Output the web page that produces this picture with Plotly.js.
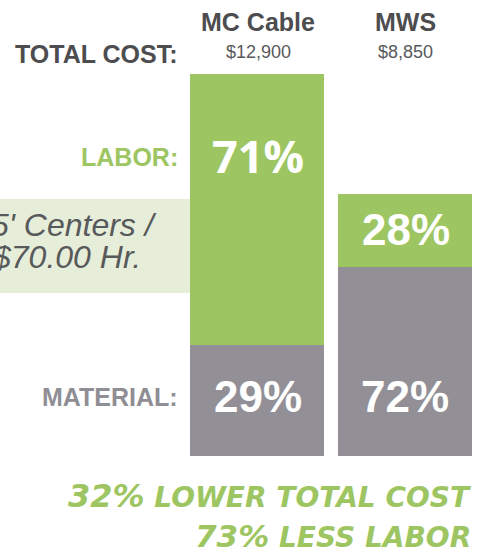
<!DOCTYPE html>
<html>
<head>
<meta charset="utf-8">
<script src="https://cdn.plot.ly/plotly-3.0.1.min.js"></script>
<style>html,body{margin:0;padding:0;background:#fff;}#chart{width:490px;height:554px;}</style>
</head>
<body>
<div id="chart"></div>
<script>
// ---- data ----
const categories = ["MC Cable", "MWS"];
const totalCost = [12900, 8850];
const laborPct = [71, 28];
const materialPct = [29, 72];
const totalLabels = ["$12,900", "$8,850"];
const rowLabels = ["TOTAL COST:", "LABOR:", "MATERIAL:"];
const noteLines = ["5' Centers /", "$70.00 Hr."];
const summaryLines = [["32%", "LOWER TOTAL COST"], ["73%", "LESS LABOR"]];

const laborVals = totalCost.map((t, i) => t * laborPct[i] / 100);
const materialVals = totalCost.map((t, i) => t * materialPct[i] / 100);

// ---- styling ----
const W = 490, H = 554;
const GREEN = "#9dc663", GRAY = "#929096", DARK = "#4d4d4f", MID = "#58595b";
const LABELGRAY = "#8f8e94", BOX = "#e6eed9";
const px = x => x / W;
const py = y => 1 - y / H;
const AR = "Liberation Sans, Arial, sans-serif";

const traces = [
  { type: "bar", x: categories, y: materialVals, width: 0.905,
    marker: { color: GRAY, line: { width: 0 } }, hoverinfo: "skip" },
  { type: "bar", x: categories, y: laborVals, width: 0.905,
    marker: { color: GREEN, line: { width: 0 } }, hoverinfo: "skip" }
];

const ann = [];
function A(text, x, y, xanchor, font, extra) {
  ann.push(Object.assign({ text, x: px(x), y: py(y), xref: "paper", yref: "paper",
    xanchor, yanchor: "middle", showarrow: false, font, borderpad: 0 }, extra || {}));
}
// category headers and totals
const colX = [258, 405];
categories.forEach((c, i) => {
  A("<b>" + c + "</b>", colX[i], 22, "center", { family: AR, size: 25, color: DARK });
  A(totalLabels[i], colX[i], 52, "center", { family: AR, size: 18, color: MID });
});
A("<b>" + rowLabels[0] + "</b>", 179, 54, "right", { family: AR, size: 25, color: DARK });
A("<b>" + rowLabels[1] + "</b>", 179, 157, "right", { family: AR, size: 25, color: GREEN });
A("<b>" + rowLabels[2] + "</b>", 179, 397, "right", { family: AR, size: 25, color: LABELGRAY });

// percentage labels on bars
A("<b>" + laborPct[0] + "%</b>", colX[0], 155, "center", { family: "Open Sans, sans-serif", size: 45, color: "#ffffff" });
A("<b>" + laborPct[1] + "%</b>", colX[1] + 1, 229, "center", { family: AR, size: 44, color: "#ffffff" });
A("<b>" + materialPct[0] + "%</b>", colX[0], 396, "center", { family: AR, size: 44, color: "#ffffff" });
A("<b>" + materialPct[1] + "%</b>", colX[1], 396, "center", { family: AR, size: 44, color: "#ffffff" });

// note box text
A("<i>" + noteLines[0] + "</i>", 158, 225, "right", { family: AR, size: 32, color: MID });
A("<i>" + noteLines[1] + "</i>", 142, 257, "right", { family: AR, size: 32, color: MID });

// summary
const SF = "DejaVu Sans, sans-serif";
A("<b><i><span style='font-size:32px'>" + summaryLines[0][0] + "</span> " + summaryLines[0][1] + "</i></b>",
  472, 496, "right", { family: SF, size: 28, color: GREEN });
A("<b><i><span style='font-size:31px'>" + summaryLines[1][0] + "</span> " + summaryLines[1][1] + "</i></b>",
  472, 536, "right", { family: SF, size: 28, color: GREEN });

const layout = {
  width: W, height: H,
  margin: { l: 0, r: 0, t: 0, b: 0, pad: 0 },
  paper_bgcolor: "#ffffff", plot_bgcolor: "#ffffff",
  barmode: "stack", showlegend: false,
  xaxis: { type: "category", range: [-1.736, 1.574], visible: false, fixedrange: true },
  yaxis: { range: [-3309, 15399], visible: false, fixedrange: true },
  shapes: [{ type: "rect", xref: "paper", yref: "paper", layer: "below",
    x0: px(0), x1: px(200), y0: py(199), y1: py(293),
    fillcolor: BOX, line: { width: 0 } }],
  annotations: ann
};

Plotly.newPlot("chart", traces, layout, { displayModeBar: false, staticPlot: true });
</script>
</body>
</html>
